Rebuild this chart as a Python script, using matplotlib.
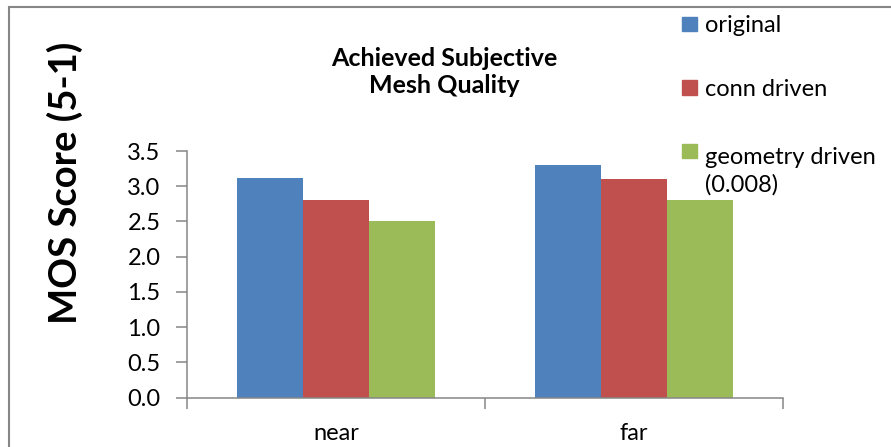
import numpy as np
from matplotlib import pyplot as plt
from matplotlib.patches import Rectangle

plt.rcParams['font.family'] = ['Lato', 'DejaVu Sans']

# categories and series
categories = ['near', 'far']
series = ['original', 'conn driven', 'geometry driven\n(0.008)']
original = [3.12, 3.30]
conn_driven = [2.80, 3.10]
geometry_driven = [2.50, 2.80]
yticks = [0.0, 0.5, 1.0, 1.5, 2.0, 2.5, 3.0, 3.5]

colors = ['#4F81BD', '#C0504D', '#9BBB59']
values = [original, conn_driven, geometry_driven]

fig = plt.figure(figsize=(8.91, 4.47), dpi=100)
ax = fig.add_axes([187 / 891, 49.5 / 447, 596 / 891, 246.5 / 447])

x = np.arange(len(categories))
w = 1 / 4.5
for i, (vals, c) in enumerate(zip(values, colors)):
    ax.bar(x + (i - 1) * w, vals, width=w, color=c, edgecolor='none')

ax.set_xlim(-0.5, len(categories) - 0.5)
ax.set_ylim(0, 3.5)
ax.set_yticks(yticks)
ax.set_yticklabels(['%.1f' % v for v in yticks])

# x ticks sit between the categories, labels in the middle
ax.set_xticks(np.arange(len(categories) + 1) - 0.5)
ax.set_xticklabels([])
ax.set_xticks(x, labels=categories, minor=True)
ax.tick_params(axis='x', which='minor', length=0, pad=18, labelsize=17)
ax.tick_params(axis='x', which='major', length=8, width=1.1, color='#868686')
ax.tick_params(axis='y', length=8, width=1.1, color='#868686', pad=11, labelsize=17)

for s in ['top', 'right']:
    ax.spines[s].set_visible(False)
for s in ['left', 'bottom']:
    ax.spines[s].set_color('#868686')
    ax.spines[s].set_linewidth(1.1)

ax.set_ylabel('MOS Score (5-1)', fontsize=27.5, fontweight='bold')
ax.yaxis.set_label_coords(-104 / 596, (397.5 - 183) / 246.5)

# baseline given for the last line of the text
fig.text(444 / 891, 1 - 93 / 447, 'Achieved Subjective\nMesh Quality', ha='center',
         va='baseline', fontsize=18, fontweight='bold', linespacing=1.2)

# legend, drawn by hand so the square lines up with the first text line
line_px = 33
for i, (name, c) in enumerate(zip(series, colors)):
    base = 32 + i * 63.5
    n_lines = name.count('\n') + 1
    fig.patches.append(Rectangle((682 / 891, 1 - (base - 1) / 447), 15 / 891, 14 / 447,
                                 transform=fig.transFigure, color=c))
    fig.text(705 / 891, 1 - (base + (n_lines - 1) * line_px) / 447, name,
             va='baseline', ha='left', fontsize=17, linespacing=1.35)

# outer frame
fig.patches.append(Rectangle((9 / 891, -0.1), 1.2, 1.1 - 6.7 / 447, transform=fig.transFigure,
                             fill=False, edgecolor='#868686', linewidth=1.5))

plt.savefig('out.png')
